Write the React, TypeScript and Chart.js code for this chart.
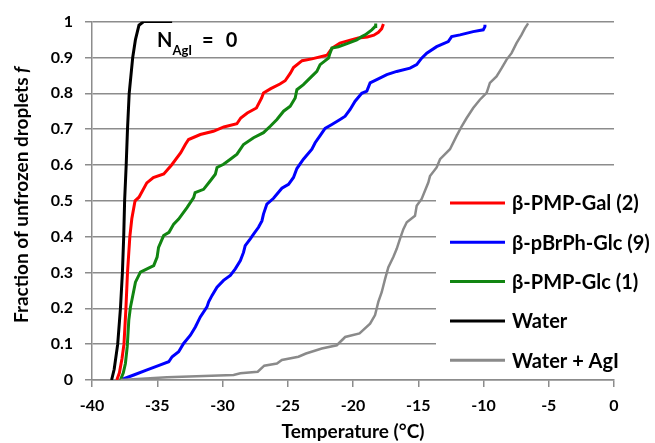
import React, { useEffect, useRef } from 'react';
import { Chart, registerables } from 'chart.js';

Chart.register(...registerables);

const seriesNames = ['β-PMP-Gal (2)', 'β-pBrPh-Glc (9)', 'β-PMP-Glc (1)', 'Water', 'Water + AgI'];
const seriesColors = ['#ff0000', '#0000ff', '#118511', '#000000', '#8a8a8a'];
const yTickLabels = ['0', '0.1', '0.2', '0.3', '0.4', '0.5', '0.6', '0.7', '0.8', '0.9', '1'];
const xTitle = 'Temperature (°C)';
const yTitleMain = 'Fraction of unfrozen droplets ';
const yTitleItalic = 'f';

// β-PMP-Gal (2)
const galT = [-38.1, -37.9, -37.7, -37.55, -37.4, -37.28, -37.1, -36.95, -36.7, -36.4, -35.8, -35.3, -34.5, -33.9, -33.2, -32.85, -32.6, -31.7, -30.7, -29.9, -28.9, -28.6, -28.1, -27.4, -27.0, -26.86, -26.3, -25.6, -25.2, -24.8, -24.56, -23.9, -23.15, -22.0, -21.6, -21.0, -20.35, -19.6, -18.9, -18.4, -18.05, -17.8, -17.67];
const galF = [0, 0.02, 0.06, 0.1, 0.2, 0.3, 0.4, 0.45, 0.5, 0.51, 0.55, 0.565, 0.575, 0.6, 0.634, 0.657, 0.671, 0.685, 0.694, 0.706, 0.715, 0.731, 0.745, 0.759, 0.787, 0.801, 0.813, 0.826, 0.835, 0.856, 0.872, 0.891, 0.896, 0.906, 0.926, 0.94, 0.947, 0.954, 0.957, 0.962, 0.97, 0.98, 0.993];

// β-pBrPh-Glc (9)
const brT = [-37.82, -36.8, -35.78, -34.76, -34.12, -33.86, -33.36, -32.98, -32.46, -32.08, -31.7, -31.19, -31.06, -30.8, -30.42, -29.92, -29.4, -29.02, -28.63, -28.39, -28.26, -27.87, -27.62, -27.24, -26.98, -26.86, -26.6, -26.09, -25.45, -24.94, -24.56, -24.3, -23.8, -23.15, -22.9, -22.52, -22.14, -21.62, -20.99, -20.6, -20.22, -19.84, -19.33, -18.94, -18.69, -18.18, -17.41, -16.65, -15.63, -15.12, -14.74, -14.35, -13.59, -12.7, -12.44, -11.8, -10.79, -10.02, -9.89, -9.89];
const brF = [0, 0.014, 0.028, 0.042, 0.051, 0.065, 0.079, 0.102, 0.125, 0.148, 0.176, 0.204, 0.218, 0.236, 0.259, 0.278, 0.292, 0.31, 0.333, 0.356, 0.375, 0.394, 0.407, 0.426, 0.444, 0.463, 0.491, 0.507, 0.535, 0.546, 0.565, 0.59, 0.616, 0.644, 0.662, 0.682, 0.702, 0.713, 0.727, 0.736, 0.755, 0.778, 0.8, 0.806, 0.829, 0.838, 0.852, 0.861, 0.87, 0.88, 0.898, 0.912, 0.93, 0.944, 0.958, 0.963, 0.972, 0.977, 0.986, 0.991];

// β-PMP-Glc (1)
const glcT = [-37.82, -37.6, -37.44, -37.3, -37.18, -37.05, -36.9, -36.67, -36.29, -35.78, -35.27, -35.01, -34.9, -34.51, -34.1, -33.74, -33.36, -32.72, -32.21, -32.1, -31.45, -30.93, -30.55, -30.42, -29.92, -29.4, -28.89, -28.39, -27.62, -26.86, -26.34, -25.83, -25.32, -24.81, -24.43, -24.3, -23.8, -23.28, -22.77, -22.52, -21.88, -21.76, -21.62, -21.12, -20.35, -19.71, -19.33, -19.07, -18.56, -18.31, -18.26];
const glcF = [0, 0.02, 0.046, 0.093, 0.167, 0.204, 0.231, 0.273, 0.301, 0.31, 0.319, 0.343, 0.37, 0.403, 0.412, 0.435, 0.449, 0.481, 0.509, 0.523, 0.532, 0.556, 0.574, 0.593, 0.602, 0.616, 0.63, 0.657, 0.676, 0.69, 0.708, 0.727, 0.75, 0.764, 0.787, 0.81, 0.824, 0.843, 0.861, 0.88, 0.898, 0.912, 0.926, 0.93, 0.94, 0.949, 0.958, 0.963, 0.977, 0.986, 0.995];

// Water
const waterT = [-38.5, -38.3, -38.03, -37.82, -37.67, -37.57, -37.5, -37.38, -37.28, -37.15, -36.88, -36.67, -36.4, -36.04, -35.5, -33.86];
const waterF = [0, 0.03, 0.1, 0.2, 0.3, 0.4, 0.5, 0.6, 0.7, 0.8, 0.9, 0.95, 0.99, 1, 1, 1];

// Water + AgI
const agiT = [-37.82, -34.25, -29.15, -28.63, -27.3, -26.8, -25.83, -25.45, -24.18, -23.6, -22.39, -21.24, -20.6, -19.5, -18.69, -18.31, -18.06, -17.8, -17.54, -17.29, -16.91, -16.65, -16.4, -16.14, -15.88, -15.25, -15.12, -14.74, -14.23, -14.1, -13.59, -13.33, -12.57, -12.06, -11.67, -11.29, -10.79, -10.28, -9.76, -9.51, -9.0, -8.61, -8.23, -7.85, -7.47, -7.09, -6.83, -6.58];
const agiF = [0, 0.008, 0.014, 0.019, 0.023, 0.04, 0.046, 0.056, 0.065, 0.074, 0.088, 0.097, 0.12, 0.13, 0.157, 0.181, 0.218, 0.245, 0.282, 0.315, 0.343, 0.366, 0.394, 0.421, 0.44, 0.458, 0.486, 0.505, 0.551, 0.569, 0.593, 0.616, 0.644, 0.681, 0.708, 0.731, 0.759, 0.782, 0.801, 0.829, 0.847, 0.87, 0.894, 0.912, 0.94, 0.963, 0.981, 0.995];

const seriesT = [galT, brT, glcT, waterT, agiT];
const seriesF = [galF, brF, glcF, waterF, agiF];

const FONT = 'Lato, "Open Sans", sans-serif';
const GRID = '#8c8c8c';

const overlayPlugin = {
  id: 'overlay',
  beforeDatasetsDraw(chart: any) {
    const ctx = chart.ctx;
    ctx.save();
    ctx.fillStyle = '#ffffff';
    ctx.fillRect(436, 183, 219, 191);
    ctx.restore();
  },
  afterDraw(chart: any) {
    const ctx = chart.ctx as CanvasRenderingContext2D;
    const area = chart.chartArea;
    ctx.save();
    // legend
    ctx.textBaseline = 'middle';
    ctx.textAlign = 'left';
    ctx.font = `bold 20px ${FONT}`;
    seriesNames.forEach((name, i) => {
      const y = 203 + i * 39.3;
      ctx.strokeStyle = seriesColors[i];
      ctx.lineWidth = 3;
      ctx.beginPath();
      ctx.moveTo(450, y);
      ctx.lineTo(505, y);
      ctx.stroke();
      ctx.fillStyle = '#000';
      ctx.fillText(name, 512, y + 1);
    });
    // x title
    ctx.textBaseline = 'alphabetic';
    ctx.textAlign = 'center';
    ctx.font = `bold 19px ${FONT}`;
    ctx.fillText(xTitle, (area.left + area.right) / 2, 438);
    // y title
    ctx.save();
    ctx.translate(28, (area.top + area.bottom) / 2 - 6);
    ctx.rotate(-Math.PI / 2);
    ctx.font = `bold 19px ${FONT}`;
    const w1 = ctx.measureText(yTitleMain).width;
    ctx.font = `italic bold 19px ${FONT}`;
    const w2 = ctx.measureText(yTitleItalic).width;
    const start = -(w1 + w2) / 2;
    ctx.textAlign = 'left';
    ctx.font = `bold 19px ${FONT}`;
    ctx.fillText(yTitleMain, start, 0);
    ctx.font = `italic bold 19px ${FONT}`;
    ctx.fillText(yTitleItalic, start + w1, 0);
    ctx.restore();
    // annotation N_AgI = 0
    ctx.textAlign = 'left';
    let x = 157;
    ctx.font = `bold 20px ${FONT}`;
    ctx.fillText('N', x, 47);
    x += ctx.measureText('N').width;
    ctx.font = `bold 13px ${FONT}`;
    ctx.fillText('AgI', x, 55);
    x += ctx.measureText('AgI').width + 10;
    ctx.font = `bold 20px ${FONT}`;
    ctx.fillText('=', x, 47);
    x += ctx.measureText('=').width + 12;
    ctx.fillText('0', x, 47);
    ctx.restore();
  },
};

export default function App() {
  const ref = useRef<HTMLCanvasElement | null>(null);
  useEffect(() => {
    document.body.style.margin = '0';
    const canvas = ref.current;
    if (!canvas) return;
    const datasets = seriesNames.map((name, i) => ({
      label: name,
      data: seriesT[i].map((t, j) => ({ x: t, y: seriesF[i][j] })),
      borderColor: seriesColors[i],
      backgroundColor: seriesColors[i],
      borderWidth: i === 4 ? 2.5 : 3,
      pointRadius: 0,
      showLine: true,
      fill: false,
      tension: 0,
      order: -i,
    }));
    const chart = new Chart(canvas, {
      type: 'scatter',
      data: { datasets },
      plugins: [overlayPlugin],
      options: {
        responsive: false,
        animation: false,
        layout: { padding: { left: 0, top: 20, right: 41, bottom: 0 } },
        plugins: { legend: { display: false }, tooltip: { enabled: false } },
        scales: {
          x: {
            type: 'linear',
            min: -40,
            max: 0,
            ticks: { stepSize: 5, color: '#000', font: { family: FONT, size: 16, weight: 'bold' }, padding: 9, maxRotation: 0 },
            grid: { drawOnChartArea: false, drawTicks: true, tickLength: 7, color: GRID, lineWidth: 1.5 },
            border: { color: GRID, width: 1.5 },
            afterFit: (s: any) => { s.height = 63; },
          },
          y: {
            type: 'linear',
            min: 0,
            max: 1,
            ticks: {
              stepSize: 0.1,
              color: '#000',
              font: { family: FONT, size: 16, weight: 'bold' },
              padding: 12,
              callback: (_v: any, i: number) => yTickLabels[i],
            },
            grid: { drawTicks: true, tickLength: 7, color: GRID, lineWidth: 1.5 },
            border: { color: GRID, width: 1.5 },
            afterFit: (s: any) => { s.width = 92; },
          },
        },
      },
    } as any);
    return () => chart.destroy();
  }, []);
  return (
    <div style={{ width: 655, height: 443, position: 'relative' }}>
      <canvas ref={ref} width={655} height={443} />
    </div>
  );
}
